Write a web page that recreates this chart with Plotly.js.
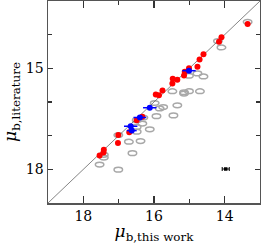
<!DOCTYPE html>
<html><head><meta charset="utf-8">
<script src="https://cdn.plot.ly/plotly-3.0.1.min.js"></script>
<style>html,body{margin:0;padding:0;background:#fff}</style>
</head><body><div id="c" style="width:261px;height:244px"></div>
<script>
const redX = [13.35,14.09,14.16,14.60,14.71,14.77,15.01,15.13,15.15,15.34,15.47,15.48,15.76,15.86,15.95,16.33,16.49,16.70,17.01,17.02,17.42,17.43,17.54];
const redY = [13.68,14.08,14.21,14.58,14.74,14.95,15.00,15.10,15.21,15.34,15.31,15.45,15.66,15.80,15.78,16.44,16.54,16.90,16.98,17.22,17.42,17.50,17.59];
const grayX = [13.35,14.19,14.09,14.77,14.60,15.01,15.15,15.15,15.01,14.70,15.48,15.98,15.74,15.84,15.34,15.93,15.45,16.30,16.49,16.33,16.49,16.12,16.49,17.01,16.71,16.38,16.61,17.42,17.42,17.54,17.01];
const grayY = [13.62,14.19,14.38,15.15,15.24,15.22,15.71,15.75,15.68,15.68,15.68,16.03,16.15,16.19,16.10,16.42,16.40,16.46,16.54,16.64,16.74,16.81,16.88,16.98,17.18,17.16,17.52,17.57,17.65,17.86,18.01];
const blueX = [15.01,16.12,16.40,16.66,16.63];
const blueY = [15.07,16.17,16.46,16.72,16.85];
const blueErr = [0.19,0.19,0.18,0.19,0.14];
const refX = [13.97], refY = [17.99], refErr = [0.10];
const diag = [19,13];
const xTicks = [18,16,14];
const yTicks = [15,18];

const ex = 0.12, ey = 0.07;
const shapes = grayX.map((x,i)=>({type:'circle',xref:'x',yref:'y',layer:'below',
  x0:x-ex,x1:x+ex,y0:grayY[i]-ey,y1:grayY[i]+ey,line:{color:'#a8a8a8',width:1.5},fillcolor:'rgba(0,0,0,0)'}));

const traces = [
 {x:diag,y:diag,mode:'lines',line:{color:'#666',width:0.8},hoverinfo:'skip'},
 {x:redX,y:redY,mode:'markers',marker:{color:'#ff0000',size:6}},
 {x:blueX,y:blueY,mode:'markers',marker:{color:'#0000ff',size:6},
  error_x:{type:'data',array:blueErr,visible:true,color:'#0000ff',thickness:1.5,width:0}},
 {x:refX,y:refY,mode:'markers',marker:{color:'#000',size:3.5,symbol:'square'},
  error_x:{type:'data',array:refErr,visible:true,color:'#000',thickness:1,width:2}}
];
const axBase = {range:[19,13],showline:true,mirror:'ticks',linecolor:'#555',linewidth:1.5,
  ticks:'inside',tickcolor:'#333',tickwidth:1.2,ticklen:7,showgrid:false,zeroline:false,
  tickfont:{family:'DejaVu Serif, serif',size:14,color:'#000'},
  minor:{dtick:1,ticks:'inside',ticklen:4,tickcolor:'#333',tickwidth:1.2}};
const layout = {
  width:261,height:244,margin:{l:48,r:1,t:1,b:41},showlegend:false,
  paper_bgcolor:'#fff',plot_bgcolor:'#fff',shapes:shapes,
  xaxis:Object.assign({},axBase,{tickvals:xTicks,tickmode:'array',
    title:{text:'<i>μ</i><sub>b,this work</sub>',standoff:7,font:{family:'DejaVu Serif, serif',size:17,color:'#000'}}}),
  yaxis:Object.assign({},axBase,{tickvals:yTicks,tickmode:'array',ticklen:5,
    title:{text:'<i>μ</i><sub>b,literature</sub>',standoff:5,font:{family:'DejaVu Serif, serif',size:17,color:'#000'}}})
};
Plotly.newPlot('c',traces,layout,{staticPlot:true});
</script></body></html>
